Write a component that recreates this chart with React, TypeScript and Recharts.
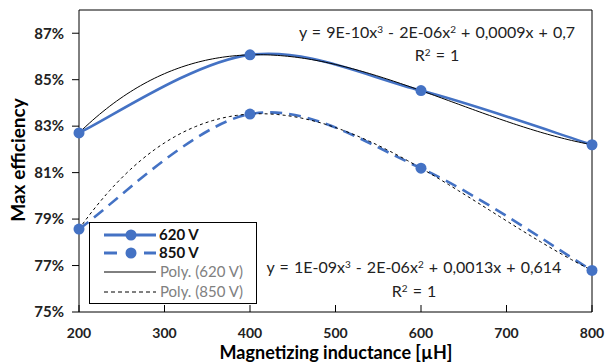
import React from 'react';
import { LineChart, Line, XAxis, YAxis, ReferenceLine } from 'recharts';

const inductance = [200, 400, 600, 800];
const efficiency620 = [82.71, 86.07, 84.53, 82.2];
const efficiency850 = [78.57, 83.52, 81.19, 76.79];

const xTicks = [200, 300, 400, 500, 600, 700, 800];
const yTicks = [75, 77, 79, 81, 83, 85, 87];

const BLUE = '#4472C4';
const FONT = 'Lato, "Open Sans", sans-serif';

const rows = inductance.map((x, i) => ({
  x,
  v620: efficiency620[i],
  v850: efficiency850[i],
}));

// Excel-style smoothed line (Catmull-Rom as cubic beziers)
const smoothCurve = (context: any) => {
  let pts: number[][] = [];
  return {
    areaStart() {},
    areaEnd() {},
    lineStart() {
      pts = [];
    },
    point(x: number, y: number) {
      pts.push([x, y]);
    },
    lineEnd() {
      const n = pts.length;
      if (!n) return;
      context.moveTo(pts[0][0], pts[0][1]);
      for (let i = 0; i < n - 1; i++) {
        const p0 = pts[i - 1] || pts[i];
        const p1 = pts[i];
        const p2 = pts[i + 1];
        const p3 = pts[i + 2] || pts[i + 1];
        context.bezierCurveTo(
          p1[0] + (p2[0] - p0[0]) / 6,
          p1[1] + (p2[1] - p0[1]) / 6,
          p2[0] - (p3[0] - p1[0]) / 6,
          p2[1] - (p3[1] - p1[1]) / 6,
          p2[0],
          p2[1]
        );
      }
    },
  };
};

// polynomial trendline: the cubic passing through the series points
const polyTrend = (context: any) => {
  let pts: number[][] = [];
  return {
    areaStart() {},
    areaEnd() {},
    lineStart() {
      pts = [];
    },
    point(x: number, y: number) {
      pts.push([x, y]);
    },
    lineEnd() {
      const n = pts.length;
      if (!n) return;
      const a = pts[0][0];
      const b = pts[n - 1][0];
      const steps = 150;
      for (let s = 0; s <= steps; s++) {
        const x = a + ((b - a) * s) / steps;
        let y = 0;
        for (let i = 0; i < n; i++) {
          let l = 1;
          for (let j = 0; j < n; j++) {
            if (j !== i) l *= (x - pts[j][0]) / (pts[i][0] - pts[j][0]);
          }
          y += l * pts[i][1];
        }
        if (s === 0) context.moveTo(x, y);
        else context.lineTo(x, y);
      }
    },
  };
};

// x ticks point up into the plot, labels below
const XTick = (props: any) => {
  const { x, y, payload } = props;
  return (
    <g>
      <line x1={x} x2={x} y1={y} y2={y - 7} stroke="#000" strokeWidth={1} />
      <text
        x={x}
        y={y + 26}
        textAnchor="middle"
        fontFamily={FONT}
        fontSize={14}
        fontWeight={700}
        fill="#222"
      >
        {payload.value}
      </text>
    </g>
  );
};

const LegendBox = () => (
  <svg
    width={168}
    height={82}
    style={{ position: 'absolute', left: 89, top: 222 }}
    fontFamily={FONT}
  >
    <rect x={0.5} y={0.5} width={167} height={81} fill="#fff" stroke="#000" />
    <line x1={15} x2={67} y1={13} y2={13} stroke={BLUE} strokeWidth={3} />
    <circle cx={42} cy={13} r={5.5} fill={BLUE} />
    <text x={70} y={18} fontSize={15} fontWeight={700} fill="#111">620 V</text>

    <line x1={15} x2={28} y1={31} y2={31} stroke={BLUE} strokeWidth={3} />
    <line x1={55} x2={67} y1={31} y2={31} stroke={BLUE} strokeWidth={3} />
    <circle cx={42} cy={31} r={5.5} fill={BLUE} />
    <text x={70} y={36} fontSize={15} fontWeight={700} fill="#111">850 V</text>

    <line x1={15} x2={67} y1={50} y2={50} stroke="#000" strokeWidth={1} />
    <text x={71} y={55} fontSize={15} fill="#808080">Poly. (620 V)</text>

    <line x1={15} x2={67} y1={70} y2={70} stroke="#000" strokeWidth={1} strokeDasharray="4 3" />
    <text x={71} y={75} fontSize={15} fill="#808080">Poly. (850 V)</text>
  </svg>
);

export default function App() {
  return (
    <div style={{ position: 'absolute', left: 0, top: 0, width: 605, height: 364, background: '#fff' }}>
      <LineChart
        width={605}
        height={364}
        data={rows}
        margin={{ top: 10, right: 13, bottom: 0, left: 0 }}
      >
        <XAxis
          dataKey="x"
          type="number"
          domain={[200, 800]}
          ticks={xTicks}
          axisLine={{ stroke: '#000', strokeWidth: 1 }}
          tickLine={false}
          tickSize={0}
          tickMargin={0}
          tick={<XTick />}
          height={52}
        />
        <YAxis
          type="number"
          domain={[75, 88]}
          ticks={yTicks}
          width={79}
          axisLine={{ stroke: '#000', strokeWidth: 1 }}
          tickLine={{ stroke: '#000' }}
          tickSize={7}
          tickMargin={8}
          tickFormatter={(v: number) => `${v}%`}
          tick={{ fontFamily: FONT, fontSize: 15, fontWeight: 700, fill: '#222' }}
        />
        <ReferenceLine y={88} stroke="#000" strokeWidth={1} />
        <ReferenceLine x={800} stroke="#000" strokeWidth={1} />

        <Line
          dataKey="v620"
          name="620 V"
          type={smoothCurve as any}
          stroke={BLUE}
          strokeWidth={2.6}
          dot={{ r: 5.5, fill: BLUE, stroke: BLUE, strokeWidth: 0 }}
          isAnimationActive={false}
        />
        <Line
          dataKey="v850"
          name="850 V"
          type={smoothCurve as any}
          stroke={BLUE}
          strokeWidth={2.6}
          strokeDasharray="12 7"
          dot={{ r: 5.5, fill: BLUE, stroke: BLUE, strokeWidth: 0 }}
          isAnimationActive={false}
        />
        <Line
          dataKey="v620"
          name="Poly. (620 V)"
          type={polyTrend as any}
          stroke="#000"
          strokeWidth={1}
          dot={false}
          isAnimationActive={false}
        />
        <Line
          dataKey="v850"
          name="Poly. (850 V)"
          type={polyTrend as any}
          stroke="#000"
          strokeWidth={1}
          strokeDasharray="3 3"
          dot={false}
          isAnimationActive={false}
        />
      </LineChart>

      <LegendBox />

      <svg
        width={605}
        height={364}
        style={{ position: 'absolute', left: 0, top: 0, pointerEvents: 'none' }}
        fontFamily={FONT}
      >
        <text x={437} y={38} textAnchor="middle" fontSize={16} wordSpacing={1} fill="#222">
          y = 9E-10x<tspan dy={-5} fontSize={10}>3</tspan>
          <tspan dy={5}> - 2E-06x</tspan>
          <tspan dy={-5} fontSize={10}>2</tspan>
          <tspan dy={5}> + 0,0009x + 0,7</tspan>
        </text>
        <text x={437} y={61} textAnchor="middle" fontSize={16} wordSpacing={1} fill="#222">
          R<tspan dy={-5} fontSize={10}>2</tspan>
          <tspan dy={5}> = 1</tspan>
        </text>
        <text x={414} y={273} textAnchor="middle" fontSize={16} wordSpacing={1} fill="#222">
          y = 1E-09x<tspan dy={-5} fontSize={10}>3</tspan>
          <tspan dy={5}> - 2E-06x</tspan>
          <tspan dy={-5} fontSize={10}>2</tspan>
          <tspan dy={5}> + 0,0013x + 0,614</tspan>
        </text>
        <text x={414} y={297} textAnchor="middle" fontSize={16} wordSpacing={1} fill="#222">
          R<tspan dy={-5} fontSize={10}>2</tspan>
          <tspan dy={5}> = 1</tspan>
        </text>
        <text x={336} y={359} textAnchor="middle" fontSize={18} fontWeight={700} fill="#000">
          Magnetizing inductance [µH]
        </text>
        <text
          transform="translate(25,160) rotate(-90)"
          textAnchor="middle"
          fontSize={19}
          fontWeight={700}
          fill="#000"
        >
          Max efficiency
        </text>
      </svg>
    </div>
  );
}
